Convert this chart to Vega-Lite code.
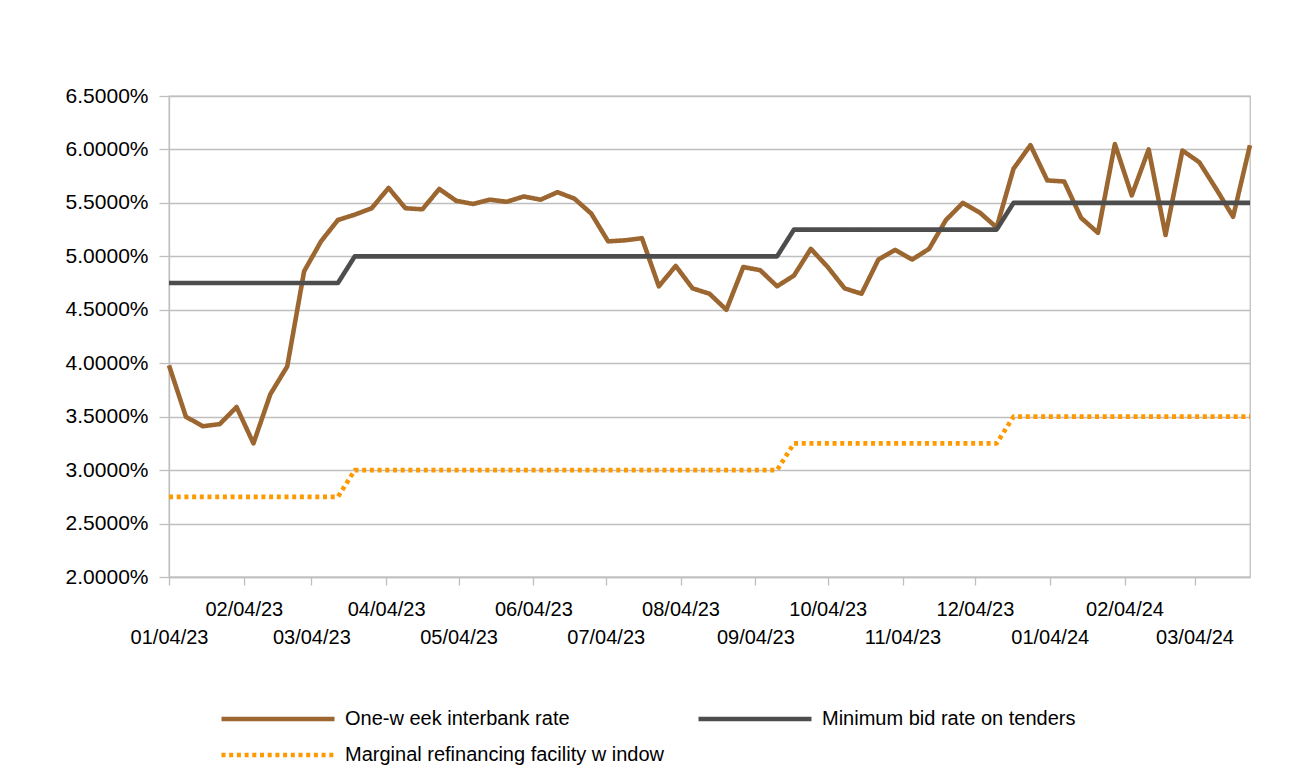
{
  "$schema": "https://vega.github.io/schema/vega-lite/v6.json",
  "width": 1081,
  "height": 481,
  "autosize": {"type": "none"},
  "padding": {"left": 169, "top": 96, "right": 47, "bottom": 203},
  "background": "white",
  "config": {
    "font": "Liberation Sans",
    "view": {"stroke": "#bfbfbf", "strokeWidth": 1.3}
  },
  "data": {
    "format": {"parse": {"date": "utc:'%Y-%m-%d'"}},
    "values": [
      {"date": "2023-01-04", "One-w eek interbank rate": 0.0398, "Minimum bid rate on tenders": 0.0475, "Marginal refinancing facility w indow": 0.0275},
      {"date": "2023-01-11", "One-w eek interbank rate": 0.0350, "Minimum bid rate on tenders": 0.0475, "Marginal refinancing facility w indow": 0.0275},
      {"date": "2023-01-18", "One-w eek interbank rate": 0.0341, "Minimum bid rate on tenders": 0.0475, "Marginal refinancing facility w indow": 0.0275},
      {"date": "2023-01-25", "One-w eek interbank rate": 0.0343, "Minimum bid rate on tenders": 0.0475, "Marginal refinancing facility w indow": 0.0275},
      {"date": "2023-02-01", "One-w eek interbank rate": 0.0359, "Minimum bid rate on tenders": 0.0475, "Marginal refinancing facility w indow": 0.0275},
      {"date": "2023-02-08", "One-w eek interbank rate": 0.0325, "Minimum bid rate on tenders": 0.0475, "Marginal refinancing facility w indow": 0.0275},
      {"date": "2023-02-15", "One-w eek interbank rate": 0.0371, "Minimum bid rate on tenders": 0.0475, "Marginal refinancing facility w indow": 0.0275},
      {"date": "2023-02-22", "One-w eek interbank rate": 0.0397, "Minimum bid rate on tenders": 0.0475, "Marginal refinancing facility w indow": 0.0275},
      {"date": "2023-03-01", "One-w eek interbank rate": 0.0486, "Minimum bid rate on tenders": 0.0475, "Marginal refinancing facility w indow": 0.0275},
      {"date": "2023-03-08", "One-w eek interbank rate": 0.0514, "Minimum bid rate on tenders": 0.0475, "Marginal refinancing facility w indow": 0.0275},
      {"date": "2023-03-15", "One-w eek interbank rate": 0.0534, "Minimum bid rate on tenders": 0.0475, "Marginal refinancing facility w indow": 0.0275},
      {"date": "2023-03-22", "One-w eek interbank rate": 0.0539, "Minimum bid rate on tenders": 0.0500, "Marginal refinancing facility w indow": 0.0300},
      {"date": "2023-03-29", "One-w eek interbank rate": 0.0545, "Minimum bid rate on tenders": 0.0500, "Marginal refinancing facility w indow": 0.0300},
      {"date": "2023-04-05", "One-w eek interbank rate": 0.0564, "Minimum bid rate on tenders": 0.0500, "Marginal refinancing facility w indow": 0.0300},
      {"date": "2023-04-12", "One-w eek interbank rate": 0.0545, "Minimum bid rate on tenders": 0.0500, "Marginal refinancing facility w indow": 0.0300},
      {"date": "2023-04-19", "One-w eek interbank rate": 0.0544, "Minimum bid rate on tenders": 0.0500, "Marginal refinancing facility w indow": 0.0300},
      {"date": "2023-04-26", "One-w eek interbank rate": 0.0563, "Minimum bid rate on tenders": 0.0500, "Marginal refinancing facility w indow": 0.0300},
      {"date": "2023-05-03", "One-w eek interbank rate": 0.0552, "Minimum bid rate on tenders": 0.0500, "Marginal refinancing facility w indow": 0.0300},
      {"date": "2023-05-10", "One-w eek interbank rate": 0.0549, "Minimum bid rate on tenders": 0.0500, "Marginal refinancing facility w indow": 0.0300},
      {"date": "2023-05-17", "One-w eek interbank rate": 0.0553, "Minimum bid rate on tenders": 0.0500, "Marginal refinancing facility w indow": 0.0300},
      {"date": "2023-05-24", "One-w eek interbank rate": 0.0551, "Minimum bid rate on tenders": 0.0500, "Marginal refinancing facility w indow": 0.0300},
      {"date": "2023-05-31", "One-w eek interbank rate": 0.0556, "Minimum bid rate on tenders": 0.0500, "Marginal refinancing facility w indow": 0.0300},
      {"date": "2023-06-07", "One-w eek interbank rate": 0.0553, "Minimum bid rate on tenders": 0.0500, "Marginal refinancing facility w indow": 0.0300},
      {"date": "2023-06-14", "One-w eek interbank rate": 0.0560, "Minimum bid rate on tenders": 0.0500, "Marginal refinancing facility w indow": 0.0300},
      {"date": "2023-06-21", "One-w eek interbank rate": 0.0554, "Minimum bid rate on tenders": 0.0500, "Marginal refinancing facility w indow": 0.0300},
      {"date": "2023-06-28", "One-w eek interbank rate": 0.0540, "Minimum bid rate on tenders": 0.0500, "Marginal refinancing facility w indow": 0.0300},
      {"date": "2023-07-05", "One-w eek interbank rate": 0.0514, "Minimum bid rate on tenders": 0.0500, "Marginal refinancing facility w indow": 0.0300},
      {"date": "2023-07-12", "One-w eek interbank rate": 0.0515, "Minimum bid rate on tenders": 0.0500, "Marginal refinancing facility w indow": 0.0300},
      {"date": "2023-07-19", "One-w eek interbank rate": 0.0517, "Minimum bid rate on tenders": 0.0500, "Marginal refinancing facility w indow": 0.0300},
      {"date": "2023-07-26", "One-w eek interbank rate": 0.0472, "Minimum bid rate on tenders": 0.0500, "Marginal refinancing facility w indow": 0.0300},
      {"date": "2023-08-02", "One-w eek interbank rate": 0.0491, "Minimum bid rate on tenders": 0.0500, "Marginal refinancing facility w indow": 0.0300},
      {"date": "2023-08-09", "One-w eek interbank rate": 0.0470, "Minimum bid rate on tenders": 0.0500, "Marginal refinancing facility w indow": 0.0300},
      {"date": "2023-08-16", "One-w eek interbank rate": 0.0465, "Minimum bid rate on tenders": 0.0500, "Marginal refinancing facility w indow": 0.0300},
      {"date": "2023-08-23", "One-w eek interbank rate": 0.0450, "Minimum bid rate on tenders": 0.0500, "Marginal refinancing facility w indow": 0.0300},
      {"date": "2023-08-30", "One-w eek interbank rate": 0.0490, "Minimum bid rate on tenders": 0.0500, "Marginal refinancing facility w indow": 0.0300},
      {"date": "2023-09-06", "One-w eek interbank rate": 0.0487, "Minimum bid rate on tenders": 0.0500, "Marginal refinancing facility w indow": 0.0300},
      {"date": "2023-09-13", "One-w eek interbank rate": 0.0472, "Minimum bid rate on tenders": 0.0500, "Marginal refinancing facility w indow": 0.0300},
      {"date": "2023-09-20", "One-w eek interbank rate": 0.0482, "Minimum bid rate on tenders": 0.0525, "Marginal refinancing facility w indow": 0.0325},
      {"date": "2023-09-27", "One-w eek interbank rate": 0.0507, "Minimum bid rate on tenders": 0.0525, "Marginal refinancing facility w indow": 0.0325},
      {"date": "2023-10-04", "One-w eek interbank rate": 0.0490, "Minimum bid rate on tenders": 0.0525, "Marginal refinancing facility w indow": 0.0325},
      {"date": "2023-10-11", "One-w eek interbank rate": 0.0470, "Minimum bid rate on tenders": 0.0525, "Marginal refinancing facility w indow": 0.0325},
      {"date": "2023-10-18", "One-w eek interbank rate": 0.0465, "Minimum bid rate on tenders": 0.0525, "Marginal refinancing facility w indow": 0.0325},
      {"date": "2023-10-25", "One-w eek interbank rate": 0.0497, "Minimum bid rate on tenders": 0.0525, "Marginal refinancing facility w indow": 0.0325},
      {"date": "2023-11-01", "One-w eek interbank rate": 0.0506, "Minimum bid rate on tenders": 0.0525, "Marginal refinancing facility w indow": 0.0325},
      {"date": "2023-11-08", "One-w eek interbank rate": 0.0497, "Minimum bid rate on tenders": 0.0525, "Marginal refinancing facility w indow": 0.0325},
      {"date": "2023-11-15", "One-w eek interbank rate": 0.0507, "Minimum bid rate on tenders": 0.0525, "Marginal refinancing facility w indow": 0.0325},
      {"date": "2023-11-22", "One-w eek interbank rate": 0.0534, "Minimum bid rate on tenders": 0.0525, "Marginal refinancing facility w indow": 0.0325},
      {"date": "2023-11-29", "One-w eek interbank rate": 0.0550, "Minimum bid rate on tenders": 0.0525, "Marginal refinancing facility w indow": 0.0325},
      {"date": "2023-12-06", "One-w eek interbank rate": 0.0541, "Minimum bid rate on tenders": 0.0525, "Marginal refinancing facility w indow": 0.0325},
      {"date": "2023-12-13", "One-w eek interbank rate": 0.0527, "Minimum bid rate on tenders": 0.0525, "Marginal refinancing facility w indow": 0.0325},
      {"date": "2023-12-20", "One-w eek interbank rate": 0.0582, "Minimum bid rate on tenders": 0.0550, "Marginal refinancing facility w indow": 0.0350},
      {"date": "2023-12-27", "One-w eek interbank rate": 0.0604, "Minimum bid rate on tenders": 0.0550, "Marginal refinancing facility w indow": 0.0350},
      {"date": "2024-01-03", "One-w eek interbank rate": 0.0571, "Minimum bid rate on tenders": 0.0550, "Marginal refinancing facility w indow": 0.0350},
      {"date": "2024-01-10", "One-w eek interbank rate": 0.0570, "Minimum bid rate on tenders": 0.0550, "Marginal refinancing facility w indow": 0.0350},
      {"date": "2024-01-17", "One-w eek interbank rate": 0.0536, "Minimum bid rate on tenders": 0.0550, "Marginal refinancing facility w indow": 0.0350},
      {"date": "2024-01-24", "One-w eek interbank rate": 0.0522, "Minimum bid rate on tenders": 0.0550, "Marginal refinancing facility w indow": 0.0350},
      {"date": "2024-01-31", "One-w eek interbank rate": 0.0605, "Minimum bid rate on tenders": 0.0550, "Marginal refinancing facility w indow": 0.0350},
      {"date": "2024-02-07", "One-w eek interbank rate": 0.0557, "Minimum bid rate on tenders": 0.0550, "Marginal refinancing facility w indow": 0.0350},
      {"date": "2024-02-14", "One-w eek interbank rate": 0.0600, "Minimum bid rate on tenders": 0.0550, "Marginal refinancing facility w indow": 0.0350},
      {"date": "2024-02-21", "One-w eek interbank rate": 0.0520, "Minimum bid rate on tenders": 0.0550, "Marginal refinancing facility w indow": 0.0350},
      {"date": "2024-02-28", "One-w eek interbank rate": 0.0599, "Minimum bid rate on tenders": 0.0550, "Marginal refinancing facility w indow": 0.0350},
      {"date": "2024-03-06", "One-w eek interbank rate": 0.0588, "Minimum bid rate on tenders": 0.0550, "Marginal refinancing facility w indow": 0.0350},
      {"date": "2024-03-13", "One-w eek interbank rate": 0.0563, "Minimum bid rate on tenders": 0.0550, "Marginal refinancing facility w indow": 0.0350},
      {"date": "2024-03-20", "One-w eek interbank rate": 0.0537, "Minimum bid rate on tenders": 0.0550, "Marginal refinancing facility w indow": 0.0350},
      {"date": "2024-03-27", "One-w eek interbank rate": 0.0604, "Minimum bid rate on tenders": 0.0550, "Marginal refinancing facility w indow": 0.0350}
    ]
  },
  "transform": [
    {"fold": ["One-w eek interbank rate", "Minimum bid rate on tenders", "Marginal refinancing facility w indow"], "as": ["series", "value"]}
  ],
  "mark": {"type": "line", "strokeWidth": 4.6, "strokeJoin": "round"},
  "encoding": {
    "x": {
      "field": "date",
      "type": "temporal",
      "scale": {
        "type": "utc",
        "nice": false,
        "domain": [
          {"year": 2023, "month": 1, "date": 4, "utc": true},
          {"year": 2024, "month": 3, "date": 27, "utc": true}
        ]
      },
      "axis": {
        "title": null,
        "values": [
          {"year": 2023, "month": 1, "date": 4, "utc": true},
          {"year": 2023, "month": 2, "date": 4, "utc": true},
          {"year": 2023, "month": 3, "date": 4, "utc": true},
          {"year": 2023, "month": 4, "date": 4, "utc": true},
          {"year": 2023, "month": 5, "date": 4, "utc": true},
          {"year": 2023, "month": 6, "date": 4, "utc": true},
          {"year": 2023, "month": 7, "date": 4, "utc": true},
          {"year": 2023, "month": 8, "date": 4, "utc": true},
          {"year": 2023, "month": 9, "date": 4, "utc": true},
          {"year": 2023, "month": 10, "date": 4, "utc": true},
          {"year": 2023, "month": 11, "date": 4, "utc": true},
          {"year": 2023, "month": 12, "date": 4, "utc": true},
          {"year": 2024, "month": 1, "date": 4, "utc": true},
          {"year": 2024, "month": 2, "date": 4, "utc": true},
          {"year": 2024, "month": 3, "date": 4, "utc": true}
        ],
        "labelExpr": "utcmonth(datum.value) % 2 == 0 ? ['', utcFormat(datum.value, '%m/%d/%y')] : [utcFormat(datum.value, '%m/%d/%y')]",
        "labelOverlap": false,
        "labelFlush": false,
        "labelBound": false,
        "labelAlign": "center",
        "labelBaseline": "top",
        "labelFontSize": 20,
        "labelColor": "#000000",
        "labelLineHeight": 28,
        "labelPadding": 14,
        "tickSize": 8,
        "tickColor": "#bfbfbf",
        "tickWidth": 1.3,
        "domainColor": "#bfbfbf",
        "domainWidth": 1.3,
        "grid": false
      }
    },
    "y": {
      "field": "value",
      "type": "quantitative",
      "scale": {"domain": [0.02, 0.065], "nice": false, "zero": false},
      "axis": {
        "title": null,
        "values": [0.02, 0.025, 0.03, 0.035, 0.04, 0.045, 0.05, 0.055, 0.06, 0.065],
        "format": ".4%",
        "labelFontSize": 21,
        "labelColor": "#000000",
        "labelPadding": 11,
        "tickSize": 10,
        "tickColor": "#bfbfbf",
        "tickWidth": 1.3,
        "domainColor": "#bfbfbf",
        "domainWidth": 1.3,
        "grid": true,
        "gridColor": "#bfbfbf",
        "gridWidth": 1.3
      }
    },
    "color": {
      "field": "series",
      "type": "nominal",
      "title": null,
      "scale": {
        "domain": ["One-w eek interbank rate", "Minimum bid rate on tenders", "Marginal refinancing facility w indow"],
        "range": ["#9c6630", "#4d4d4d", "#ff9900"]
      },
      "legend": {
        "orient": "none",
        "legendX": 50,
        "legendY": 612,
        "direction": "horizontal",
        "columns": 2,
        "padding": 0,
        "symbolType": "stroke",
        "symbolSize": 12769,
        "symbolStrokeWidth": 4.6,
        "labelFontSize": 20,
        "labelColor": "#000000",
        "labelOffset": 8,
        "labelLimit": 0,
        "columnPadding": 31,
        "rowPadding": 14,
        "clipHeight": 22
      }
    },
    "strokeDash": {
      "field": "series",
      "type": "nominal",
      "title": null,
      "scale": {
        "domain": ["One-w eek interbank rate", "Minimum bid rate on tenders", "Marginal refinancing facility w indow"],
        "range": [[1, 0], [1, 0], [4, 3.7]]
      }
    }
  }
}
